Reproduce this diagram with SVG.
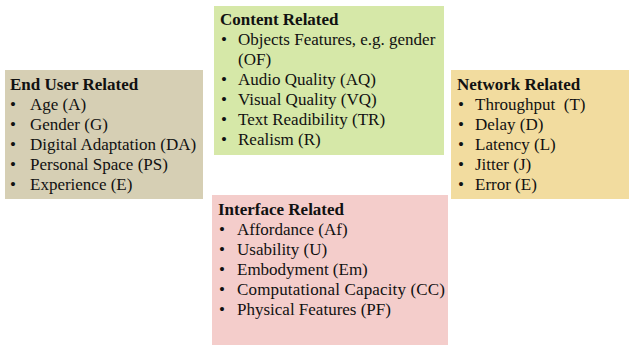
<svg xmlns="http://www.w3.org/2000/svg" width="631" height="347" viewBox="0 0 631 347">
<style>
.t{font-weight:bold}
</style>
<rect width="631" height="347" fill="#fff"/>
<g font-family="Liberation Serif, Times New Roman, serif" font-size="17" fill="#111">
<g id="end-user">
<rect x="5" y="70" width="198" height="129" fill="#d6cfb4"/>
<text class="t" x="10" y="90">End User Related</text>
<text x="10" y="110">•</text><text x="30" y="110">Age (A)</text>
<text x="10" y="130">•</text><text x="30" y="130">Gender (G)</text>
<text x="10" y="150">•</text><text x="30" y="150">Digital Adaptation (DA)</text>
<text x="10" y="170">•</text><text x="30" y="170">Personal Space (PS)</text>
<text x="10" y="190">•</text><text x="30" y="190">Experience (E)</text>
</g>
<g id="content">
<rect x="214" y="6" width="230" height="149" fill="#d6e8a8"/>
<text class="t" x="220" y="25">Content Related</text>
<text x="221" y="45">•</text><text x="238" y="45">Objects Features, e.g. gender</text>
<text x="238" y="65">(OF)</text>
<text x="221" y="85">•</text><text x="238" y="85">Audio Quality (AQ)</text>
<text x="221" y="105">•</text><text x="238" y="105">Visual Quality (VQ)</text>
<text x="221" y="125">•</text><text x="238" y="125">Text Readibility (TR)</text>
<text x="221" y="145">•</text><text x="238" y="145">Realism (R)</text>
</g>
<g id="network">
<rect x="451" y="70" width="178" height="129" fill="#f2dc9f"/>
<text class="t" x="457" y="90">Network Related</text>
<text x="458" y="110">•</text><text x="475" y="110" xml:space="preserve">Throughput  (T)</text>
<text x="458" y="130">•</text><text x="475" y="130">Delay (D)</text>
<text x="458" y="150">•</text><text x="475" y="150">Latency (L)</text>
<text x="458" y="170">•</text><text x="475" y="170">Jitter (J)</text>
<text x="458" y="190">•</text><text x="475" y="190">Error (E)</text>
</g>
<g id="interface">
<rect x="212" y="195" width="236" height="150" fill="#f4cdcb"/>
<text class="t" x="218" y="215">Interface Related</text>
<text x="219" y="235">•</text><text x="237" y="235">Affordance (Af)</text>
<text x="219" y="255">•</text><text x="237" y="255">Usability (U)</text>
<text x="219" y="275">•</text><text x="237" y="275">Embodyment (Em)</text>
<text x="219" y="295">•</text><text x="237" y="295" textLength="208" lengthAdjust="spacing">Computational Capacity (CC)</text>
<text x="219" y="315">•</text><text x="237" y="315">Physical Features (PF)</text>
</g>
</g>
<g id="connectors"/>
</svg>
